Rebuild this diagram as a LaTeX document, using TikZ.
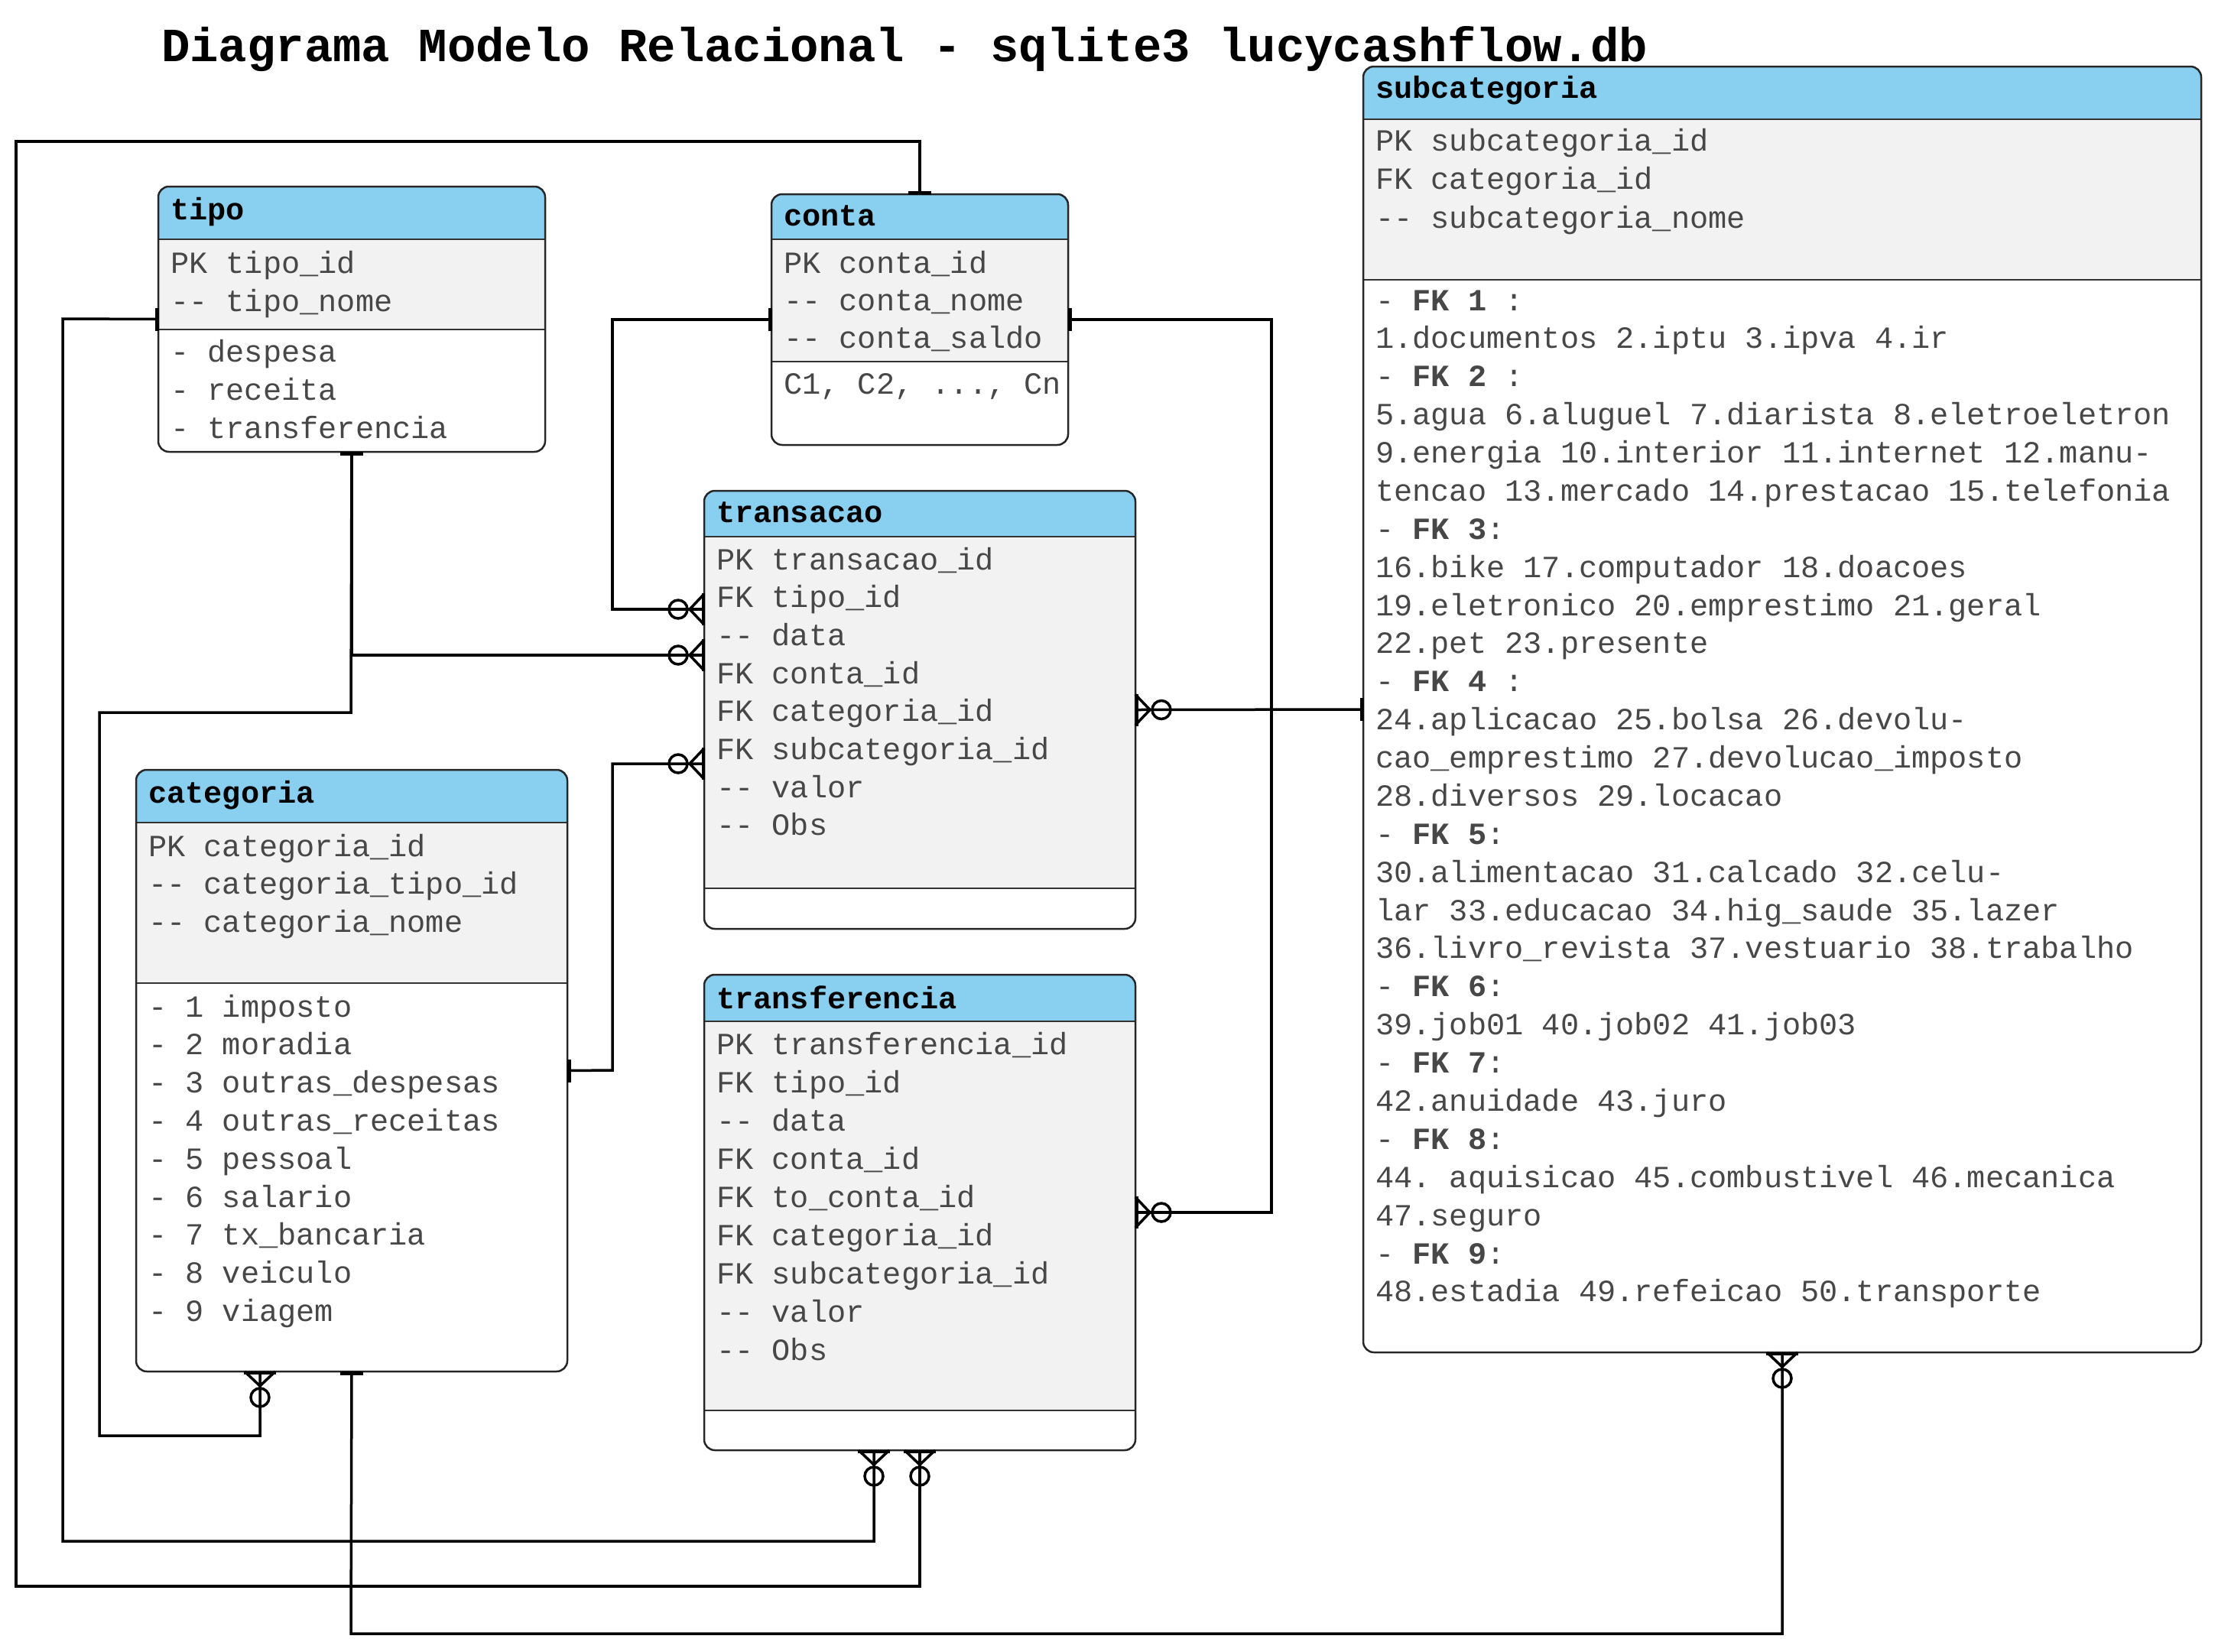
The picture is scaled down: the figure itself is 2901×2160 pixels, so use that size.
\documentclass[tikz,border=0pt]{standalone}
\usepackage{fontspec}
\setmonofont{Liberation Mono}
\usetikzlibrary{positioning}
\definecolor{azulcab}{RGB}{137,207,240}
\definecolor{cinzacorpo}{RGB}{242,242,242}
\tikzset{
  tabela/.style = {rectangle, inner sep=0pt, outer sep=0pt, fill=white,
    anchor=north west},% caixa da tabela
  cabec/.style = {fill=azulcab},
  corpo/.style = {fill=cinzacorpo},
  borda/.style = {draw=black!85, line width=2.5pt, rounded corners=14pt},
  divisa/.style = {draw=black!80, line width=2pt},
  campo/.style = {anchor=base west, inner sep=0pt, text=black!72,
    font=\ttfamily\fontsize{40.3}{50}\selectfont},
  titulo/.style = {anchor=base west, inner sep=0pt,
    font=\ttfamily\bfseries\fontsize{40.3}{50}\selectfont},
  conector/.style = {draw=black, line width=3.5pt},
  um/.pic = {\draw[line width=5pt] (2,-15) -- (2,15);},% lado um
  varios/.pic = {\draw[conector, line join=miter] (0,-20) -- (19,0) -- (0,20);
    \draw[line width=4pt] (1.5,-21) -- (1.5,21);
    \draw[conector] (34,0) circle (12);}% zero ou muitos
}
% cabecalho azul, campos cinza, contorno
\newcommand{\desenhatabela}[3]{%
  \begin{scope}
    \clip[rounded corners=14pt] (#1.north west) rectangle (#1.south east);
    \fill[cabec] (#1.north west) rectangle (#1.east |- 0,#2);
    \fill[corpo] (#1.west |- 0,#2) rectangle (#1.east |- 0,#3);
  \end{scope}
  \draw[divisa] (#1.west |- 0,#2) -- (#1.east |- 0,#2);
  \draw[divisa] (#1.west |- 0,#3) -- (#1.east |- 0,#3);
  \draw[borda] (#1.north west) rectangle (#1.south east);
}

\begin{document}
\begin{tikzpicture}[x=1pt,y=-1pt]
\fill[white] (0,0) rectangle (2901,2160);
\useasboundingbox (0,0) rectangle (2901,2160);

\node[anchor=base west, inner sep=0pt, font=\ttfamily\bfseries\fontsize{62.3}{70}\selectfont]
  (titulodiag) at (211,80) {Diagrama Modelo Relacional - sqlite3 lucycashflow.db};

% ---- tabelas
\node[tabela, minimum width=506pt, minimum height=347pt] (tipo) at (207,244) {};
\desenhatabela{tipo}{313}{431}
\node[titulo] (tipo-t) at (223,287) {tipo};
\foreach \txt [count=\i from 0] in {PK tipo\_id, -{}- tipo\_nome}
  \node[campo] (tipo-a\i) at (223,357+50*\i) {\txt};
\foreach \txt [count=\i from 0] in {- despesa, - receita, - transferencia}
  \node[campo] (tipo-v\i) at (223,473+50*\i) {\txt};

\node[tabela, minimum width=388pt, minimum height=328pt] (conta) at (1009,254) {};
\desenhatabela{conta}{313}{473}
\node[titulo] (conta-t) at (1025,295) {conta};
\foreach \txt [count=\i from 0] in {PK conta\_id, -{}- conta\_nome, -{}- conta\_saldo}
  \node[campo] (conta-a\i) at (1025,357+49*\i) {\txt};
\node[campo] (conta-v0) at (1025,515) {C1, C2, ..., Cn};

\node[tabela, minimum width=564pt, minimum height=573pt] (transacao) at (921,642) {};
\desenhatabela{transacao}{702}{1162}
\node[titulo] (transacao-t) at (937,683) {transacao};
\foreach \txt [count=\i from 0] in {PK transacao\_id, FK tipo\_id, -{}- data,
    FK conta\_id, FK categoria\_id, FK subcategoria\_id, -{}- valor, -{}- Obs}
  \node[campo] (transacao-a\i) at (937,745+49.7*\i) {\txt};

\node[tabela, minimum width=564pt, minimum height=787pt] (categoria) at (178,1007) {};
\desenhatabela{categoria}{1076}{1286}
\node[titulo] (categoria-t) at (194,1050) {categoria};
\foreach \txt [count=\i from 0] in {PK categoria\_id, -{}- categoria\_tipo\_id,
    -{}- categoria\_nome}
  \node[campo] (categoria-a\i) at (194,1120+49.5*\i) {\txt};
\foreach \txt [count=\i from 0] in {- 1 imposto, - 2 moradia, - 3 outras\_despesas,
    - 4 outras\_receitas, - 5 pessoal, - 6 salario, - 7 tx\_bancaria,
    - 8 veiculo, - 9 viagem}
  \node[campo] (categoria-v\i) at (194,1330+49.8*\i) {\txt};

\node[tabela, minimum width=564pt, minimum height=622pt] (transferencia) at (921,1275) {};
\desenhatabela{transferencia}{1336}{1845}
\node[titulo] (transferencia-t) at (937,1319) {transferencia};
\foreach \txt [count=\i from 0] in {PK transferencia\_id, FK tipo\_id, -{}- data,
    FK conta\_id, FK to\_conta\_id, FK categoria\_id, FK subcategoria\_id,
    -{}- valor, -{}- Obs}
  \node[campo] (transferencia-a\i) at (937,1379+50*\i) {\txt};

\node[tabela, minimum width=1096pt, minimum height=1682pt] (subcategoria) at (1783,87) {};
\desenhatabela{subcategoria}{156}{366}
\node[titulo] (subcategoria-t) at (1799,128) {subcategoria};
\foreach \txt [count=\i from 0] in {PK subcategoria\_id, FK categoria\_id,
    -{}- subcategoria\_nome}
  \node[campo] (subcategoria-a\i) at (1799,197+50.5*\i) {\txt};
\foreach \txt [count=\i from 0] in {
    {- \textbf{FK 1} :}, {1.documentos 2.iptu 3.ipva 4.ir},
    {- \textbf{FK 2} :}, {5.agua 6.aluguel 7.diarista 8.eletroeletron},
    {9.energia 10.interior 11.internet 12.manu-},
    {tencao 13.mercado 14.prestacao 15.telefonia},
    {- \textbf{FK 3}:}, {16.bike 17.computador 18.doacoes},
    {19.eletronico 20.emprestimo 21.geral}, {22.pet 23.presente},
    {- \textbf{FK 4} :}, {24.aplicacao 25.bolsa 26.devolu-},
    {cao\_emprestimo 27.devolucao\_imposto}, {28.diversos 29.locacao},
    {- \textbf{FK 5}:}, {30.alimentacao 31.calcado 32.celu-},
    {lar 33.educacao 34.hig\_saude 35.lazer},
    {36.livro\_revista 37.vestuario 38.trabalho},
    {- \textbf{FK 6}:}, {39.job01 40.job02 41.job03},
    {- \textbf{FK 7}:}, {42.anuidade 43.juro},
    {- \textbf{FK 8}:}, {44. aquisicao 45.combustivel 46.mecanica},
    {47.seguro}, {- \textbf{FK 9}:}, {48.estadia 49.refeicao 50.transporte}}
  \node[campo] (subcategoria-v\i) at (1799,406+49.88*\i) {\txt};

% ---- relacionamentos
\draw[conector] (tipo.west) -- (82,417) -- (82,2016) -- (1143,2016)
  -- (1143,0 |- transferencia.south);
\draw[conector] (conta.north) -- (1203,185) -- (21,185) -- (21,2075)
  -- (1203,2075) -- (transferencia.south);
\draw[conector] (tipo.south) |- (transacao.west |- 0,857);
\draw[conector] (tipo.south) -- (459,932) -- (130,932) -- (130,1878)
  -- (340,1878) -- (340,0 |- categoria.south);
\draw[conector] (conta.west) -- (801,418) |- (transacao.west |- 0,797);
\draw[conector] (conta.east) -- (1663,418) |- (transferencia.east);
\draw[conector] (categoria.east) -- (801,1400) |- (transacao.west |- 0,999);
\draw[conector] (categoria.south) -- (459,2137) -| (subcategoria.south);
\draw[conector] (subcategoria.west) -- (transacao.east);

% ---- extremidades
\pic[rotate=180] at (tipo.west) {um};
\pic at (tipo.south) [rotate=-90] {um};
\pic[rotate=90] at (conta.north) {um};
\pic[rotate=180] at (conta.west) {um};
\pic at (conta.east) {um};
\pic at (categoria.east) {um};
\pic[rotate=-90] at (categoria.south) {um};
\pic[rotate=180] at (subcategoria.west) {um};
\pic[rotate=-90] at (1143,0 |- transferencia.south) {varios};
\pic[rotate=-90] at (transferencia.south) {varios};
\pic[rotate=180] at (transacao.west |- 0,857) {varios};
\pic[rotate=180] at (transacao.west |- 0,797) {varios};
\pic[rotate=180] at (transacao.west |- 0,999) {varios};
\pic[rotate=-90] at (340,0 |- categoria.south) {varios};
\pic at (transferencia.east) {varios};
\pic[rotate=-90] at (subcategoria.south) {varios};
\pic at (transacao.east) {varios};
\end{tikzpicture}
\end{document}
